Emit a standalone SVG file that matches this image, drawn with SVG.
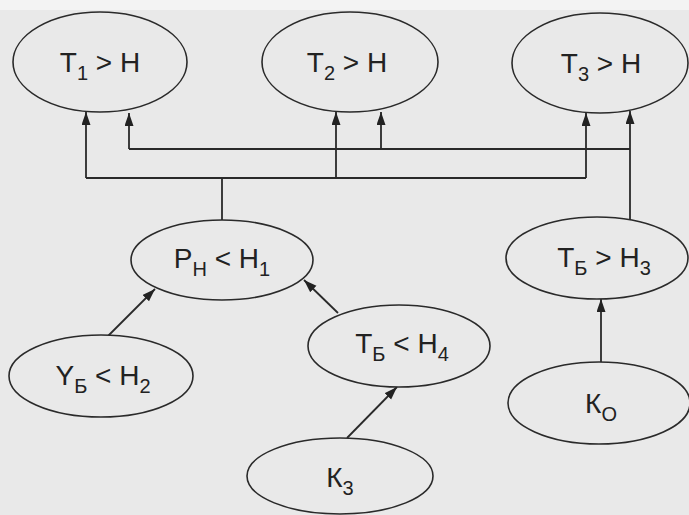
<svg xmlns="http://www.w3.org/2000/svg" width="689" height="515" viewBox="0 0 689 515">
<style>
.node ellipse{fill:#e9e9e9;stroke:#2a2a2a;stroke-width:1.6}
.node text{font-family:"Liberation Sans",Arial,sans-serif;font-size:28px;fill:#222;text-anchor:middle}
.sub{font-size:20px}
.conn path{fill:none;stroke:#2a2a2a;stroke-width:1.8}
.arr{marker-end:url(#ah)}
</style>
<defs>
<marker id="ah" markerUnits="userSpaceOnUse" markerWidth="14" markerHeight="10" refX="13" refY="4.5" orient="auto">
<path d="M0,0 L13,4.5 L0,9 z" fill="#222"/>
</marker>
</defs>
<rect width="689" height="515" fill="#e9e9e9"/>
<rect width="689" height="10" fill="#f3f3f3"/>
<g class="conn" id="connectors">
<path d="M129,149 H630"/>
<path d="M86,178 H586"/>
<path class="arr" d="M129,149 V113"/>
<path class="arr" d="M381,149 V112"/>
<path class="arr" d="M630,220 V111"/>
<path class="arr" d="M86,178 V112"/>
<path class="arr" d="M336,178 V112"/>
<path class="arr" d="M586,178 V113"/>
<path d="M222,178 V220"/>
<path class="arr" d="M108,336 L155,289"/>
<path class="arr" d="M338,313 L304,280"/>
<path class="arr" d="M347,438 L397,387"/>
<path class="arr" d="M601,362 V299"/>
</g>
<g class="node" id="t1"><ellipse cx="100" cy="62" rx="87" ry="50"/><text x="100" y="72">Т<tspan class="sub" dy="8">1</tspan><tspan dy="-8"> &gt; Н</tspan></text></g>
<g class="node" id="t2"><ellipse cx="350" cy="62" rx="88" ry="50"/><text x="347" y="72">Т<tspan class="sub" dy="8">2</tspan><tspan dy="-8"> &gt; Н</tspan></text></g>
<g class="node" id="t3"><ellipse cx="600" cy="63" rx="88" ry="50"/><text x="601" y="73">Т<tspan class="sub" dy="8">3</tspan><tspan dy="-8"> &gt; Н</tspan></text></g>
<g class="node" id="ph"><ellipse cx="222" cy="260" rx="91" ry="40"/><text x="222" y="268">Р<tspan class="sub" dy="8">Н</tspan><tspan dy="-8"> &lt; Н</tspan><tspan class="sub" dy="8">1</tspan></text></g>
<g class="node" id="tbh3"><ellipse cx="597" cy="258" rx="91" ry="41"/><text x="604" y="267">Т<tspan class="sub" dy="8">Б</tspan><tspan dy="-8"> &gt; Н</tspan><tspan class="sub" dy="8">3</tspan></text></g>
<g class="node" id="yb"><ellipse cx="101" cy="376" rx="92" ry="41"/><text x="103" y="385">Y<tspan class="sub" dy="8">Б</tspan><tspan dy="-8"> &lt; Н</tspan><tspan class="sub" dy="8">2</tspan></text></g>
<g class="node" id="tbh4"><ellipse cx="399" cy="346" rx="91" ry="41"/><text x="402" y="353">Т<tspan class="sub" dy="8">Б</tspan><tspan dy="-8"> &lt; Н</tspan><tspan class="sub" dy="8">4</tspan></text></g>
<g class="node" id="k3"><ellipse cx="340" cy="476" rx="93" ry="38"/><text x="340" y="487">К<tspan class="sub" dy="8">3</tspan></text></g>
<g class="node" id="ko"><ellipse cx="599" cy="403" rx="91" ry="41"/><text x="601" y="413">К<tspan class="sub" dy="8">О</tspan></text></g>
</svg>
